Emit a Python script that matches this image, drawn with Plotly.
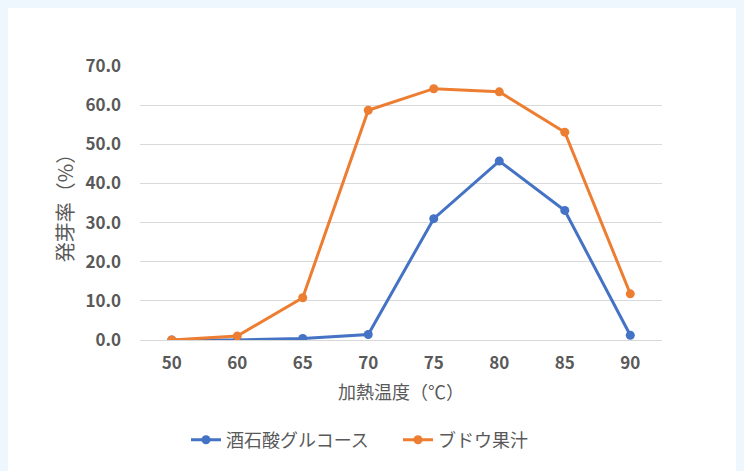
import plotly.graph_objects as go

temps = ["50", "60", "65", "70", "75", "80", "85", "90"]
glucose = [0.0, 0.0, 0.4, 1.4, 31.0, 45.7, 33.1, 1.2]
grape = [0.0, 1.0, 10.8, 58.7, 64.2, 63.4, 53.1, 11.8]
y_ticks = [0, 10, 20, 30, 40, 50, 60, 70]

FONT = "Noto Sans CJK JP"
BLUE = "#4472c4"
ORANGE = "#ed7d31"
GRAY = "#595959"

fig = go.Figure()
fig.add_trace(go.Scatter(x=temps, y=glucose, name="酒石酸グルコース", mode="lines+markers",
                         line=dict(color=BLUE, width=3), marker=dict(size=9, color=BLUE)))
fig.add_trace(go.Scatter(x=temps, y=grape, name="ブドウ果汁", mode="lines+markers",
                         line=dict(color=ORANGE, width=3), marker=dict(size=9, color=ORANGE)))

W, H = 744, 471
L, R, T, B = 132, 90, 58, 139
pw, ph = W - L - R, H - T - B

fig.update_layout(
    width=W, height=H,
    margin=dict(l=L, r=R, t=T, b=B, autoexpand=False),
    paper_bgcolor="white", plot_bgcolor="white",
    font=dict(family=FONT, color=GRAY),
    showlegend=True,
    legend=dict(orientation="h", x=(178 - L) / pw, xanchor="left",
                y=-100 / ph, yanchor="middle",
                font=dict(size=18, color=GRAY), bgcolor="rgba(0,0,0,0)",
                entrywidth=167, entrywidthmode="pixels"),
)
fig.update_xaxes(type="category", showgrid=False, showline=False, zeroline=False,
                 automargin=False,
                 tickfont=dict(size=17, color=GRAY, weight="bold"),
                 ticklabelstandoff=11,
                 title=dict(text="加熱温度（℃）", font=dict(size=18, color=GRAY), standoff=13))
fig.update_yaxes(range=[0, 70], tickvals=y_ticks, tickformat=".1f",
                 automargin=False,
                 showgrid=True, gridcolor="#d9d9d9", gridwidth=1,
                 zeroline=True, zerolinecolor="#d9d9d9", zerolinewidth=1, showline=False,
                 tickfont=dict(size=17, color=GRAY, weight="bold"),
                 ticklabelstandoff=18,
                 title=dict(text="発芽率（%）", font=dict(size=20, color=GRAY), standoff=6))

fig.write_html("out.html", post_script="document.body.style.background='#eef6fe';")
